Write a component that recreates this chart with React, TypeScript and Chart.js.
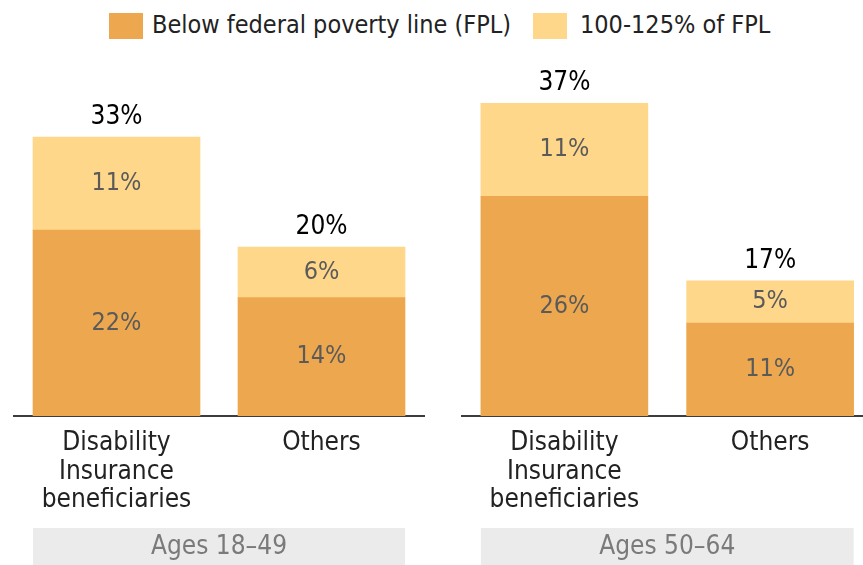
import React, { useEffect, useRef } from "react";
import { Chart, registerables } from "chart.js";

Chart.register(...registerables);

const FONT = '"Liberation Sans Narrow", "DejaVu Sans Condensed", "Roboto", sans-serif';

const categories: (string | string[])[] = [["Disability", "Insurance", "beneficiaries"], "Others"];
const seriesNames = ["Below federal poverty line (FPL)", "100-125% of FPL"];
const groupLabels = ["Ages 18–49", "Ages 50–64"];

const below_18_49 = [22, 14];
const near_18_49 = [11, 6];
const totals_18_49 = [33, 20];

const below_50_64 = [26, 11];
const near_50_64 = [11, 5];
const totals_50_64 = [37, 17];

const COLORS = ["#EDA84F", "#FED78A"];

const labelPlugin = {
  id: "barLabels",
  afterDraw(chart: any, _args: any, opts: any) {
    const ctx = chart.ctx;
    ctx.save();
    ctx.textAlign = "center";
    ctx.textBaseline = "middle";
    // segment labels
    chart.data.datasets.forEach((ds: any, di: number) => {
      const meta = chart.getDatasetMeta(di);
      meta.data.forEach((el: any, i: number) => {
        const { x, y, base } = el.getProps(["x", "y", "base"], true);
        ctx.font = `400 25px ${FONT}`;
        ctx.fillStyle = "#5a5a5a";
        ctx.fillText(ds.data[i] + "%", x, (y + base) / 2);
      });
    });
    // totals
    const topMeta = chart.getDatasetMeta(chart.data.datasets.length - 1);
    topMeta.data.forEach((el: any, i: number) => {
      ctx.font = `400 26px ${FONT}`;
      ctx.fillStyle = "#000";
      ctx.fillText(opts.totals[i] + "%", el.x, el.y - 20);
    });
    // group box
    const first = topMeta.data[0];
    const last = topMeta.data[topMeta.data.length - 1];
    const x0 = first.x - first.width / 2;
    const x1 = last.x + last.width / 2;
    ctx.fillStyle = "#EBEBEB";
    ctx.fillRect(x0, 528, x1 - x0, 40);
    ctx.fillStyle = "#7a7a7a";
    ctx.font = `400 26px ${FONT}`;
    ctx.fillText(opts.group, (x0 + x1) / 2, 547);
    ctx.restore();
  },
};

function makeConfig(below: number[], near: number[], totals: number[], group: string, padL: number, padR: number): any {
  return {
    type: "bar",
    data: {
      labels: categories,
      datasets: [
        { label: seriesNames[0], data: below, backgroundColor: COLORS[0], borderWidth: 0, barThickness: 167 },
        { label: seriesNames[1], data: near, backgroundColor: COLORS[1], borderWidth: 0, barThickness: 167 },
      ],
    },
    options: {
      animation: false,
      responsive: false,
      layout: { padding: { left: padL, right: padR, top: 78, bottom: 0 } },
      plugins: {
        legend: { display: false },
        tooltip: { enabled: false },
        barLabels: { totals, group },
      },
      scales: {
        x: {
          stacked: true,
          grid: { display: false, drawTicks: false },
          border: { display: true, color: "#3d3d3d", width: 2 },
          ticks: {
            color: "#222",
            font: { family: FONT, size: 26, lineHeight: 1.1 },
            padding: 13,
            maxRotation: 0,
            autoSkip: false,
          },
          afterFit: (axis: any) => {
            axis.height = 149;
          },
        },
        y: {
          stacked: true,
          display: false,
          min: 0,
          max: 40,
        },
      },
    },
    plugins: [labelPlugin],
  };
}

function Panel(props: { cfg: any; left: number; width: number }) {
  const ref = useRef<HTMLCanvasElement>(null);
  useEffect(() => {
    if (!ref.current) return;
    const chart = new Chart(ref.current, props.cfg);
    return () => chart.destroy();
  }, []);
  return (
    <canvas
      ref={ref}
      width={props.width}
      height={565}
      style={{ position: "absolute", left: props.left, top: 0, width: props.width, height: 565 }}
    />
  );
}

export default function App() {
  const legendText: React.CSSProperties = {
    position: "absolute",
    top: 9,
    fontFamily: FONT,
    fontSize: 25,
    color: "#222",
    lineHeight: "32px",
    whiteSpace: "nowrap",
  };
  return (
    <div style={{ position: "absolute", left: 0, top: 0, width: 863, height: 565, overflow: "hidden", background: "#fff" }}>
      <div style={{ position: "absolute", left: 109, top: 13, width: 34, height: 26, background: COLORS[0] }} />
      <div style={{ ...legendText, left: 152 }}>{seriesNames[0]}</div>
      <div style={{ position: "absolute", left: 533, top: 13, width: 34, height: 26, background: COLORS[1] }} />
      <div style={{ ...legendText, left: 580 }}>{seriesNames[1]}</div>
      <Panel cfg={makeConfig(below_18_49, near_18_49, totals_18_49, groupLabels[0], 14, 8)} left={0} width={432} />
      <Panel cfg={makeConfig(below_50_64, near_50_64, totals_50_64, groupLabels[1], 29.5, 0)} left={432} width={441} />
    </div>
  );
}
